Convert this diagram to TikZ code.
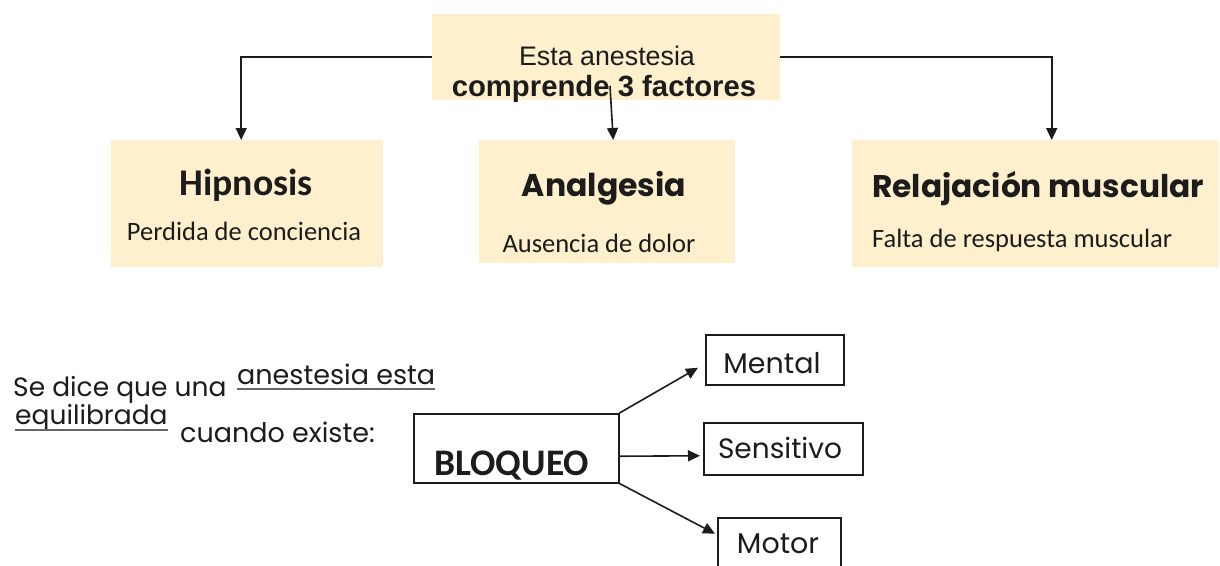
\documentclass[tikz,border=0pt]{standalone}
\usepackage{fontspec}
\setmainfont{Liberation Sans}
\newfontfamily\calfont{Carlito}
\newfontfamily\gothfont{Poppins}
\usetikzlibrary{arrows.meta}
\definecolor{cream}{HTML}{FEF0CC}
\definecolor{ink}{HTML}{1C1C1C}
\tikzset{
  fbox/.style={fill=cream, draw=none, inner sep=0pt, anchor=north west},
  wbox/.style={draw=ink, line width=1.5pt, fill=white, inner sep=0pt, anchor=north west},
  txt/.style={inner sep=0pt, text=ink},
  conn/.style={draw=ink, line width=1.6pt, -{Triangle[length=12pt,width=11pt]}},
  uline/.style={draw=black!60, line width=1.4pt},
}
\begin{document}
\begin{tikzpicture}[x=1pt,y=-1pt]
\useasboundingbox (0,0) rectangle (1220,565);
% top box
\node[fbox, minimum width=348pt, minimum height=86pt] (top) at (432,14) {};
\node[txt, anchor=base, font=\fontsize{26.8}{30}\selectfont] (t1) at (607,65) {Esta anestesia};
\node[txt, anchor=base, font=\fontsize{29.3}{32}\selectfont\bfseries] (t2) at (604,96) {comprende 3 factores};
% three boxes
\node[fbox, minimum width=272pt, minimum height=127pt] (hip) at (111,140) {};
\node[fbox, minimum width=256pt, minimum height=123pt] (ana) at (479,140) {};
\node[fbox, minimum width=367pt, minimum height=127pt] (rel) at (852,140) {};
\node[txt, anchor=base, font=\fontsize{37.7}{40}\selectfont\calfont\bfseries] (h1) at (246,195) {Hipnosis};
\node[txt, anchor=base, font=\fontsize{26.5}{30}\selectfont\calfont] (h2) at (244,240) {Perdida de conciencia};
\node[txt, anchor=base, font=\fontsize{31.5}{34}\selectfont\gothfont\bfseries] (a1) at (604,196) {Analgesia};
\node[txt, anchor=base, font=\fontsize{26.5}{30}\selectfont\calfont] (a2) at (599,252) {Ausencia de dolor};
\node[txt, anchor=base west, font=\fontsize{31.3}{34}\selectfont\gothfont\bfseries] (r1) at (872,197) {Relajación muscular};
\node[txt, anchor=base west, font=\fontsize{26.5}{30}\selectfont\calfont] (r2) at (872,247) {Falta de respuesta muscular};
% top connectors
\coordinate (mstart) at (610,86);
\draw[conn] (top.west) -| ([xshift=-6pt]hip.north);
\draw[conn] (top.east) -| ([xshift=16pt]rel.north);
\draw[conn] (mstart) -- ([xshift=6pt]ana.north);
% bottom left text
\node[txt, anchor=base west, font=\fontsize{26.5}{30}\selectfont\gothfont] (s1) at (13,396) {Se dice que una};
\node[txt, anchor=base west, font=\fontsize{27}{30}\selectfont\gothfont] (s2) at (237,384) {anestesia esta};
\node[txt, anchor=base west, font=\fontsize{26.5}{30}\selectfont\gothfont] (s3) at (15,424) {equilibrada};
\node[txt, anchor=base west, font=\fontsize{27}{30}\selectfont\gothfont] (s4) at (180,442) {cuando existe:};
\draw[uline] ([yshift=-5pt]s2.base west) -- ([yshift=-5pt]s2.base east);
\draw[uline] ([yshift=-6pt]s3.base west) -- ([yshift=-6pt]s3.base east);
% BLOQUEO and targets
\node[wbox, minimum width=205pt, minimum height=69pt] (bloq) at (413,413) {};
\node[txt, anchor=base west, font=\fontsize{37.5}{40}\selectfont\calfont\bfseries] (b1) at (434,475) {BLOQUEO};
\node[wbox, minimum width=138pt, minimum height=50pt] (ment) at (705,334) {};
\node[wbox, minimum width=159pt, minimum height=52pt] (sens) at (703,422) {};
\node[wbox, minimum width=123pt, minimum height=70pt] (mot) at (717,517) {};
\node[txt, anchor=base, font=\fontsize{28.5}{31}\selectfont\gothfont] (m1) at (772,373) {Mental};
\node[txt, anchor=base, font=\fontsize{28}{31}\selectfont\gothfont] (m2) at (780,458) {Sensitivo};
\node[txt, anchor=base, font=\fontsize{28.5}{31}\selectfont\gothfont] (m3) at (778,553) {Motor};
\draw[conn] (bloq.north east) -- ([xshift=-7pt,yshift=-8pt]ment.west);
\draw[conn] ([yshift=-8pt]bloq.east) -- ([xshift=-3pt,yshift=-7pt]sens.west);
\draw[conn] (bloq.south east) -- ([xshift=-2pt,yshift=19pt]mot.west);
\end{tikzpicture}
\end{document}
